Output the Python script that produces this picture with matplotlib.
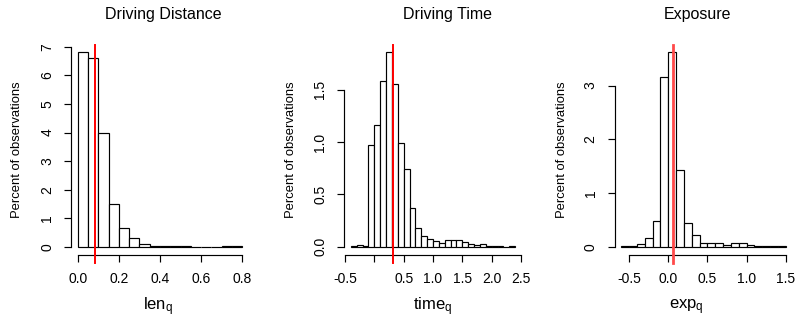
import matplotlib
matplotlib.use("Agg")
import matplotlib.pyplot as plt

plt.rcParams['font.family'] = ['Liberation Sans', 'DejaVu Sans']
plt.rcParams['mathtext.fontset'] = 'custom'
plt.rcParams['mathtext.rm'] = 'Liberation Sans'
plt.rcParams['mathtext.it'] = 'Liberation Sans'
plt.rcParams['axes.unicode_minus'] = False

# ---------------- data ----------------
titles = ["Driving Distance", "Driving Time", "Exposure"]
xlabels = [r"$\mathrm{len}_\mathrm{q}$", r"$\mathrm{time}_\mathrm{q}$", r"$\mathrm{exp}_\mathrm{q}$"]
ylabel = "Percent of observations"

dist_breaks = [0.00, 0.05, 0.10, 0.15, 0.20, 0.25, 0.30, 0.35, 0.40, 0.45,
               0.50, 0.55, 0.60, 0.65, 0.70, 0.75, 0.80]
dist_pct = [6.81, 6.61, 3.99, 1.49, 0.65, 0.31, 0.09, 0.02, 0.04, 0.03,
            0.01, 0.005, 0.003, 0.003, 0.01, 0.01]
dist_mean = 0.084

time_breaks = [-0.4, -0.3, -0.2, -0.1, 0.0, 0.1, 0.2, 0.3, 0.4, 0.5, 0.6, 0.7,
               0.8, 0.9, 1.0, 1.1, 1.2, 1.3, 1.4, 1.5, 1.6, 1.7, 1.8, 1.9,
               2.0, 2.1, 2.2, 2.3, 2.4]
time_pct = [0.005, 0.012, 0.01, 0.97, 1.16, 1.59, 1.86, 1.56, 0.99, 0.745,
            0.37, 0.176, 0.10, 0.077, 0.05, 0.04, 0.067, 0.067, 0.067, 0.045,
            0.03, 0.02, 0.025, 0.003, 0.004, 0.004, 0.001, 0.01]
time_mean = 0.318

exp_breaks = [-0.6, -0.5, -0.4, -0.3, -0.2, -0.1, 0.0, 0.1, 0.2, 0.3, 0.4,
              0.5, 0.6, 0.7, 0.8, 0.9, 1.0, 1.1, 1.2, 1.3, 1.4, 1.5]
exp_pct = [0.005, 0.015, 0.05, 0.17, 0.48, 3.16, 3.62, 1.43, 0.45, 0.21,
           0.07, 0.06, 0.07, 0.04, 0.06, 0.06, 0.03, 0.02, 0.01, 0.005, 0.005]
exp_mean = 0.065

x_ticks = [[0.0, 0.2, 0.4, 0.6, 0.8],
           [-0.5, 0.0, 0.5, 1.0, 1.5, 2.0, 2.5],
           [-0.5, 0.0, 0.5, 1.0, 1.5]]
x_ticklabels = [["0.0", "0.2", "0.4", "0.6", "0.8"],
                ["-0.5", "", "0.5", "1.0", "1.5", "2.0", "2.5"],
                ["-0.5", "0.0", "0.5", "1.0", "1.5"]]
y_ticks = [[0, 1, 2, 3, 4, 5, 6, 7],
           [0.0, 0.5, 1.0, 1.5],
           [0, 1, 2, 3]]
y_ticklabels = [["0", "1", "2", "3", "4", "5", "6", "7"],
                ["0.0", "0.5", "1.0", "1.5"],
                ["0", "1", "2", "3"]]

# ---------------- layout ----------------
W, H = 796, 323
fig = plt.figure(figsize=(W / 100, H / 100), dpi=100)

ax_left_px = [71.3, 344.3, 614.8]
ax_w_px = 177.4
ax_top_px, ax_bot_px = 44.5, 254.5
title_pos = [(163.8, 15), (447.8, 15), (697.5, 15)]
ylab_pos = [(17.5, 150), (291, 150), (562, 150)]
xlab_pos = [(158, 307), (432.5, 307), (686, 307)]
line_colors = ["#ff0000", "#ff0000", "#ff4a4a"]
line_widths = [1.4, 1.4, 2.0]

panels = [(dist_breaks, dist_pct, dist_mean),
          (time_breaks, time_pct, time_mean),
          (exp_breaks, exp_pct, exp_mean)]

for i, (breaks, pct, mean) in enumerate(panels):
    ax = fig.add_axes([ax_left_px[i] / W, 1 - ax_bot_px / H,
                       ax_w_px / W, (ax_bot_px - ax_top_px) / H])
    lefts = breaks[:-1]
    widths = [b - a for a, b in zip(breaks[:-1], breaks[1:])]
    ax.bar(lefts, pct, width=widths, align='edge', facecolor='white',
           edgecolor='black', linewidth=0.85)
    xr = breaks[-1] - breaks[0]
    ax.set_xlim(breaks[0] - 0.04 * xr, breaks[-1] + 0.04 * xr)
    ymax = max(pct)
    ax.set_ylim(-0.04 * ymax, ymax * 1.04)
    ax.axvline(mean, ymin=-0.04, ymax=1.0, color=line_colors[i],
               linewidth=line_widths[i], clip_on=False, zorder=5)

    for s in ['top', 'right']:
        ax.spines[s].set_visible(False)
    for s in ['left', 'bottom']:
        ax.spines[s].set_linewidth(0.85)
    ax.spines['bottom'].set_bounds(x_ticks[i][0], x_ticks[i][-1])
    ax.spines['left'].set_bounds(y_ticks[i][0], y_ticks[i][-1])
    ax.set_xticks(x_ticks[i])
    ax.set_xticklabels(x_ticklabels[i])
    ax.set_yticks(y_ticks[i])
    ax.set_yticklabels(y_ticklabels[i], rotation=90, va='center')
    ax.tick_params(axis='both', direction='out', length=4.8, width=0.85,
                   labelsize=10, pad=7.5)

    fig.text(title_pos[i][0] / W, 1 - title_pos[i][1] / H, titles[i],
             ha='center', va='center', fontsize=11.5)
    fig.text(ylab_pos[i][0] / W, 1 - ylab_pos[i][1] / H, ylabel,
             ha='center', va='center', rotation=90, fontsize=9.4)
    fig.text(xlab_pos[i][0] / W, 1 - xlab_pos[i][1] / H, xlabels[i],
             ha='center', va='center', fontsize=12)

fig.savefig("out.png", dpi=100)
